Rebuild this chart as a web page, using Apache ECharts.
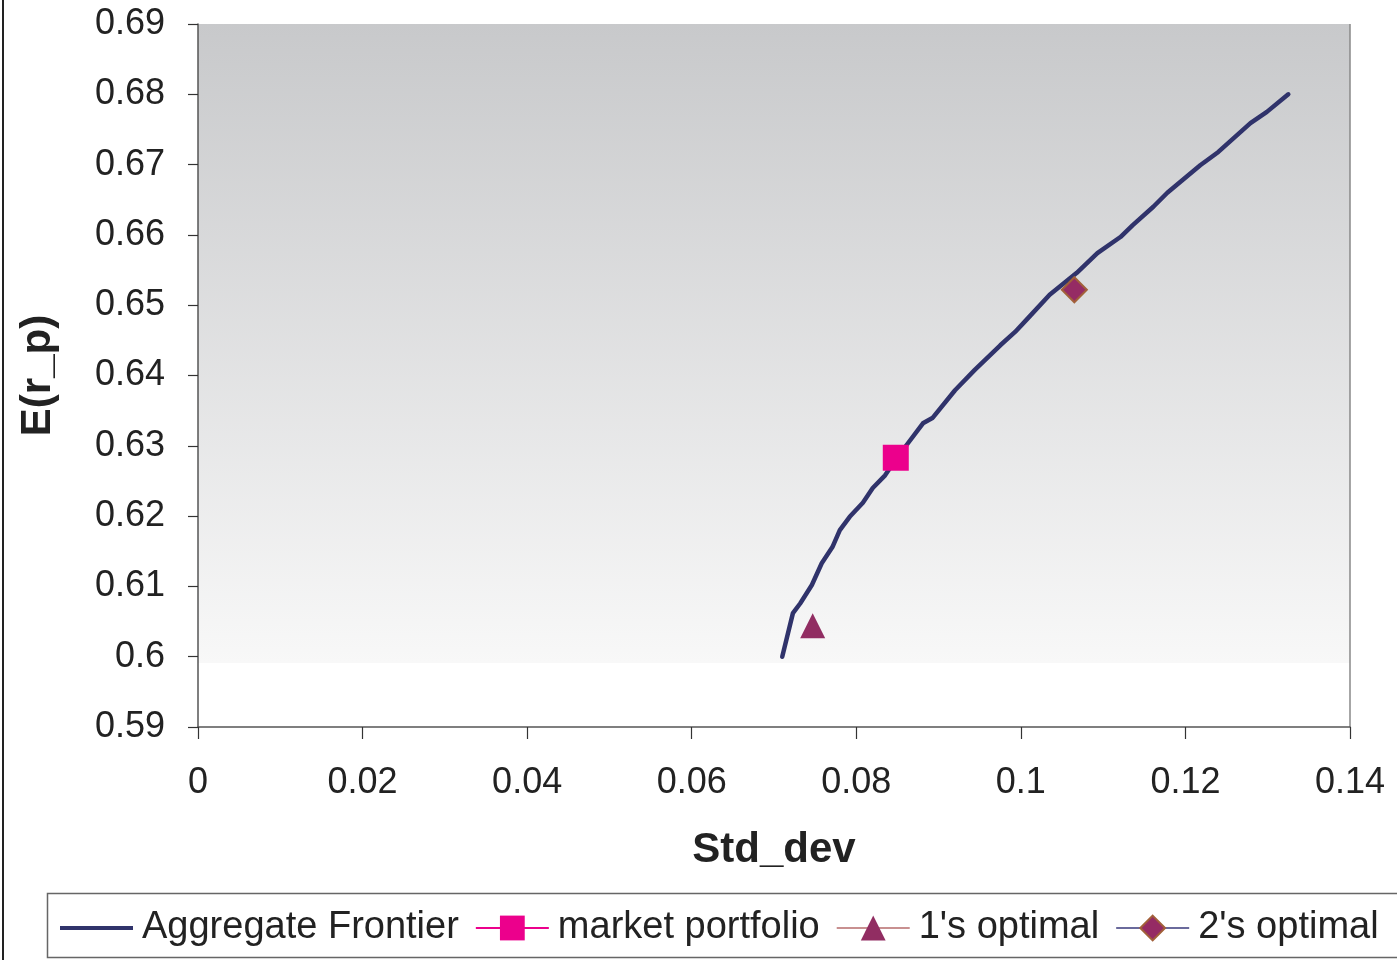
<!DOCTYPE html>
<html>
<head>
<meta charset="utf-8">
<script src="https://cdn.jsdelivr.net/npm/echarts@6/dist/echarts.min.js"></script>
<style>html,body{margin:0;padding:0;background:#fff;}#c{width:1397px;height:960px;}</style>
</head>
<body>
<div id="c"></div>
<script>
// Aggregate frontier (Std_dev, E(r_p))
const frontierStd = [0.0710,0.0723,0.0732,0.0746,0.0758,0.0771,0.0780,0.0792,0.0808,0.0820,0.0835,0.0850,0.0863,0.0881,0.0893,0.0920,0.0944,0.0975,0.0993,0.1009,0.1035,0.1068,0.1093,0.1121,0.1136,0.1161,0.1178,0.1218,0.1240,0.1279,0.1299,0.1325];
const frontierRet = [0.6000,0.6062,0.6076,0.6102,0.6133,0.6156,0.6180,0.6199,0.6219,0.6240,0.6258,0.6284,0.6304,0.6332,0.6340,0.6379,0.6408,0.6443,0.6462,0.6482,0.6515,0.6546,0.6574,0.6597,0.6614,0.6640,0.6660,0.6699,0.6718,0.6759,0.6775,0.6800];
const marketPortfolio = [0.0848, 0.6283];
const optimal1 = [0.0747, 0.6044];
const optimal2 = [0.1065, 0.6522];
const seriesNames = ['Aggregate Frontier','market portfolio',"1's optimal","2's optimal"];
const xTicks = {min:0, max:0.14, interval:0.02};
const yTicks = {min:0.59, max:0.69, interval:0.01};

const chart = echarts.init(document.getElementById('c'), null, {renderer:'canvas'});
const FONT = 'Liberation Sans, Arial, sans-serif';
chart.setOption({
  animation:false,
  backgroundColor:'#ffffff',
  grid:{left:198, right:47, top:24, bottom:233, show:true, borderWidth:0,
    backgroundColor:{type:'linear',x:0,y:0,x2:0,y2:1,colorStops:[
      {offset:0,color:'#c8c9cb'},{offset:0.909,color:'#f8f8f8'},{offset:0.9091,color:'#ffffff'},{offset:1,color:'#ffffff'}]}},
  graphic:[
    {type:'rect', shape:{x:2,y:0,width:2,height:960}, style:{fill:'#222'}, silent:true},
    {type:'rect', shape:{x:47.5,y:893.5,width:1360,height:64}, style:{fill:'none',stroke:'#666',lineWidth:1.5}, silent:true},
    {type:'line', shape:{x1:1350,y1:24,x2:1350,y2:727}, style:{stroke:'#888',lineWidth:1.5}, silent:true}
  ],
  legend:{
    left:60, top:909, padding:0, itemGap:16, itemWidth:73, itemHeight:31, symbolKeepAspect:true,
    data:[
      {name:seriesNames[0], icon:'path://M0 0H73V4H0Z', itemStyle:{color:'#30336b'}},
      seriesNames[1], seriesNames[2], seriesNames[3]
    ],
    textStyle:{fontFamily:FONT, fontSize:38, color:'#222', padding:[0,0,0,4]}
  },
  xAxis:{
    type:'value', min:xTicks.min, max:xTicks.max, interval:xTicks.interval,
    name:'Std_dev', nameLocation:'middle', nameGap:102,
    nameTextStyle:{fontFamily:FONT, fontSize:42, fontWeight:'bold', color:'#222'},
    axisLine:{show:true, lineStyle:{color:'#555', width:1.5}},
    axisTick:{show:true, length:12, lineStyle:{color:'#333', width:1.2}},
    axisLabel:{margin:38, fontFamily:FONT, fontSize:36, color:'#222', formatter:v=>String(+v.toFixed(2))},
    splitLine:{show:false}
  },
  yAxis:{
    type:'value', min:yTicks.min, max:yTicks.max, interval:yTicks.interval,
    name:'E(r_p)', nameLocation:'middle', nameGap:139,
    nameTextStyle:{fontFamily:FONT, fontSize:42, fontWeight:'bold', color:'#222'},
    axisLine:{show:true, lineStyle:{color:'#555', width:1.5}},
    axisTick:{show:true, length:10, lineStyle:{color:'#333', width:1.2}},
    axisLabel:{margin:33, fontFamily:FONT, fontSize:36, color:'#222', formatter:v=>String(+v.toFixed(2))},
    splitLine:{show:false}
  },
  series:[
    {name:seriesNames[0], type:'line', showSymbol:false, symbol:'none', smooth:false,
     data:frontierStd.map((x,i)=>[x,frontierRet[i]]),
     lineStyle:{color:'#30336b', width:4.5, cap:'round', join:'round'}, itemStyle:{color:'#30336b'}, z:2},
    {name:seriesNames[1], type:'line', symbol:'rect', symbolSize:26, data:[marketPortfolio],
     lineStyle:{color:'#ec008c', width:2.5}, itemStyle:{color:'#ec008c'}, z:3},
    {name:seriesNames[2], type:'line', symbol:'triangle', symbolSize:25, data:[optimal1],
     lineStyle:{color:'#c89090', width:2.5}, itemStyle:{color:'#912d62'}, z:3},
    {name:seriesNames[3], type:'line', symbol:'diamond', symbolSize:25, data:[optimal2],
     lineStyle:{color:'#6a6a9c', width:2.5}, itemStyle:{color:'#952b64', borderColor:'#a2603a', borderWidth:2}, z:3}
  ]
});
</script>
</body>
</html>
